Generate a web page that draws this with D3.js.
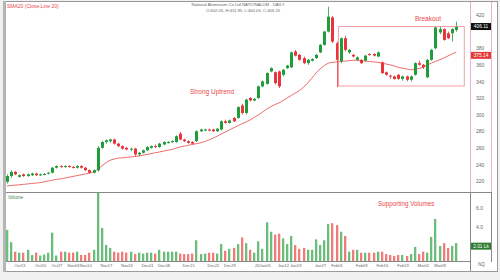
<!DOCTYPE html>
<html>
<head>
<meta charset="utf-8">
<script src="https://cdn.jsdelivr.net/npm/d3@7"></script>
<style>
html, body { margin: 0; padding: 0; background: #fff; }
svg { display: block; font-family: "Liberation Sans", Arial, sans-serif; }
</style>
</head>
<body>
<svg id="chart" width="500" height="280"></svg>
<script>
// daily candles, NATIONALUM
const open  = [219,226,231,225,228,226,227,229,227,228,229,230,236,238,237,238,237,236,238,236,233,230,233,260,267,268,270,265,262,260,258,259,252,254,257,260,262,261,264,266,267,267,277,270,268,267,268,280,281,282,282,280,282,292,290,296,296,311,302,320,317,320,334,337,352,351,352,348,356,357,376,372,368,362,365,368,375,384,400,417,386,364,392,375,372,366,366,365,373,373,370,363,351,347,346,348,343,346,342,348,362,360,345,366,380,399,403,398,398,402];
const high  = [228,233,232,228,229,229,230,230,229,229.5,231,237,239,239,239,239,238,239,239,237,234,234,262,268,270,271,271,266,263,261,260,260,255,258,262,263,264,266,268,268,269,275,279,271,269,268,281,283,283,283,283,284,293,294,294,297,310,313,319,321,320,335,341,351,357,352,353,355,360,376,378,373,370,367,368,373,385,401,430,419,388,393,395,379,373,370,367,372,374,374,376,364,352,348,347,349,347,347,347,363,365,361,367,379,406,406,404,400,404,412];
const low   = [217,224,227,224,225,225,226,226,226,227,228,229,235,236,236,236,235,235,235,232,229,229,231,259,265,266,264,261,258,257,256,250,250,253,256,259,260,260,263,265,266,266,269,267,265,264,267,279,280,280,279,279,281,289,289,291,295,300,300,316,316,319,333,336,351,336,332,346,355,356,370,365,361,360,364,367,374,383,399,386,333,362,376,373,369,365,361,364,371,370,369,349,347,343,342,342,341,340,340,347,359,355,344,365,379,397,389,391,388,400];
const close = [226,231,228,227,226,228,229,227,228,228.5,230,236,238,237,238,237,236,238,236,233,230,233,260,267,269,270,265,262,259,258,259,252,254,257,261,262,261,265,267,267,268,274,270,268,266,265,280,282,282,281,280,283,292,290,293,292,309,302,318,317,319,334,340,350,356,338,334,354,359,375,371,366,362,366,367,372,384,400,418,388,366,392,378,378,370,369,362,371,372,371,375,350,348,346,343,343,346,342,346,362,360,357,366,378,405,403,390,392,403,406.11];
const sma20 = [214,214.5,215,215.5,216,216.5,217,217.5,218,219,220,221,222,222.5,223.5,224.5,225.5,226.5,227.5,228.5,229.5,231,234,238,242,245,246.5,247.5,248,248.5,249,249.5,250,251,252,253,254,255,256,257,258,259.5,261,262,263,264,265,266,267.5,269.5,271.5,274,276.5,279,281.5,284,286.5,289,291,293.5,296.5,299.5,303,306.5,309.5,312,314,317,320,323,326,329,333,338,344,350,355,359,362,363,363.5,364,364.5,365,365.5,365.5,365,364.5,364,363.5,363,362,361,360,358.5,357,356,355,354,354.5,355.5,357,359.5,362,364,366,368,370.5,373,375];
const volume = [3.7,2.4,1.4,1.3,1.3,1.6,1.05,1.3,1.0,1.1,1.3,3.4,1.0,1.4,1.4,1.3,1.3,1.4,1.05,1.05,1.3,1.6,7.6,3.9,2.1,1.8,1.4,1.3,1.4,1.3,1.4,1.15,1.3,1.2,1.3,1.3,1.2,1.6,1.4,1.4,1.4,1.4,1.2,1.15,1.15,1.2,2.6,1.15,1.2,1.3,1.3,1.2,2.2,1.5,1.7,1.8,2.2,2.9,2.3,1.6,1.3,2.5,1.7,4.5,3.5,3.2,3.3,2.8,2.2,3.05,2.1,1.7,1.8,1.6,1.6,2.7,2.1,2.6,4.3,4.4,4.2,3.5,3.05,1.4,1.6,1.6,1.3,1.3,1.3,1.3,1.4,1.4,1.15,1.05,0.95,1.05,1.05,0.95,1.15,1.9,1.15,1.4,1.3,2.95,4.85,2.0,2.3,1.8,2.0,2.3];

const tickText = ["Oct13","Oct20","Oct27","Nov03","Nov10","Nov17","Nov24","Dec01","Dec08","Dec15","Dec22","Dec29","26Jan05","Jan12","Jan19","Jan27","Feb01","Feb09","Feb16","Feb23","Mar02","Mar09"];
const tickAt   = [3,8,12,16,19,24,29,34,38,44,50,54,62,67,70,76,80,86,91,96,101,105];
const priceTicks = [220,240,260,280,300,320,340,360,380,420];
const volTicks = [4,6];

const n = close.length;
const up = "#1f9d3a", down = "#e8343a";
const volUp = "#6bbd7b", volDown = "#f07b7b";

const svg = d3.select("#chart");

// frame
svg.append("rect").attr("x", 0).attr("y", 0).attr("width", 500).attr("height", 280).attr("fill", "#f0f0f0");
svg.append("rect").attr("x", 4.5).attr("y", 1.5).attr("width", 493).attr("height", 270)
   .attr("fill", "#fff").attr("stroke", "#9a9a9a");
svg.append("rect").attr("x", 3).attr("y", 1).attr("width", 3).attr("height", 271).attr("fill", "#b5b5b5");

const x = d3.scaleLinear().domain([0, n - 1]).range([7, 456]);
const y = d3.scaleLinear().domain([220, 420]).range([181, 15]);
const yVol = d3.scaleLinear().domain([0, 6]).range([265, 208]);
const volBase = 261;

// panel lines
const lines = svg.append("g").attr("stroke-width", 1);
lines.append("line").attr("x1", 6).attr("x2", 492).attr("y1", 192.5).attr("y2", 192.5).attr("stroke", "#888");
lines.append("line").attr("x1", 6).attr("x2", 471).attr("y1", volBase + 0.5).attr("y2", volBase + 0.5).attr("stroke", "#888");
lines.append("line").attr("x1", 470.5).attr("x2", 470.5).attr("y1", 2).attr("y2", 192).attr("stroke", "#e2b4cc");
lines.append("line").attr("x1", 491.5).attr("x2", 491.5).attr("y1", 2).attr("y2", 192).attr("stroke", "#e2b4cc");
lines.append("line").attr("x1", 470.5).attr("x2", 470.5).attr("y1", 192).attr("y2", 271).attr("stroke", "#888");
lines.append("line").attr("x1", 491.5).attr("x2", 491.5).attr("y1", 192).attr("y2", 262).attr("stroke", "#888");

// SMA 20
svg.append("path")
   .datum(sma20)
   .attr("fill", "none")
   .attr("stroke", "#ef6b6b")
   .attr("stroke-width", 1)
   .attr("d", d3.line().x((d, i) => x(i)).y(d => y(d)));

// candles
const candle = svg.append("g").selectAll("g")
   .data(close)
   .enter()
   .append("g")
   .attr("fill", (d, i) => d >= open[i] ? up : down)
   .attr("stroke", (d, i) => d >= open[i] ? up : down);

candle.append("line")
   .attr("x1", (d, i) => Math.round(x(i)) + 0.5)
   .attr("x2", (d, i) => Math.round(x(i)) + 0.5)
   .attr("y1", (d, i) => y(high[i]))
   .attr("y2", (d, i) => y(low[i]))
   .attr("stroke-width", 0.8);

candle.append("rect")
   .attr("x", (d, i) => Math.round(x(i)) - 1)
   .attr("width", 3)
   .attr("y", (d, i) => y(Math.max(d, open[i])))
   .attr("height", (d, i) => Math.max(1, Math.abs(y(d) - y(open[i]))))
   .attr("stroke", "none");

// volume
svg.append("g").selectAll("rect")
   .data(volume)
   .enter()
   .append("rect")
   .attr("x", (d, i) => Math.round(x(i)) - 1)
   .attr("width", 2.3)
   .attr("y", d => Math.min(yVol(d), volBase - 1))
   .attr("height", d => volBase - Math.min(yVol(d), volBase - 1))
   .attr("fill", (d, i) => close[i] >= open[i] ? volUp : volDown);

// price axis
const yAxis = svg.append("g")
   .attr("transform", "translate(471,0)")
   .call(d3.axisRight(y).tickValues(priceTicks).tickSize(0).tickPadding(5));
yAxis.select(".domain").remove();
yAxis.selectAll("text").attr("font-size", 5).attr("fill", "#666");

const vAxis = svg.append("g")
   .attr("transform", "translate(471,0)")
   .call(d3.axisRight(yVol).tickValues(volTicks).tickFormat(d3.format(".1f")).tickSize(0).tickPadding(5));
vAxis.select(".domain").remove();
vAxis.selectAll("text").attr("font-size", 5).attr("fill", "#666");

// x axis
const xAxis = svg.append("g")
   .attr("transform", `translate(0,${volBase})`)
   .call(d3.axisBottom(x).tickValues(tickAt).tickFormat((d, i) => tickText[i]).tickSize(0).tickPadding(3));
xAxis.select(".domain").remove();
xAxis.selectAll("text").attr("font-size", 4.1).attr("fill", "#666");

svg.append("text").attr("x", 478).attr("y", 266).attr("font-size", 4.6).attr("fill", "#666").text("NQ");

// value tags
const tag = (yy, bg, label) => {
    svg.append("rect").attr("x", 471).attr("y", yy - 3.5).attr("width", 20).attr("height", 7).attr("fill", bg);
    svg.append("text").attr("x", 481).attr("y", yy + 1.7).attr("text-anchor", "middle")
       .attr("font-size", 4.8).attr("fill", "#fff").text(label);
};
tag(y(close[n - 1]), "#111", "406.11");
tag(y(sma20[n - 1]) + 3, "#e53935", "375.14");
tag(yVol(volume[n - 1]) + 3, "#2e7d32", "2.01 Lk");

// breakout box
svg.append("rect")
   .attr("x", x(80.5)).attr("y", y(406))
   .attr("width", x(111) - x(80.5)).attr("height", y(334.5) - y(406))
   .attr("fill", "none").attr("stroke", "#ee8a8a").attr("stroke-width", 0.8);

// labels
const note = (tx, ty, s, size) => svg.append("text").attr("x", tx).attr("y", ty)
   .attr("font-size", size).attr("fill", "#e8474a").text(s);
note(190, 94, "Strong Uptrend", 6.5);
note(415, 21, "Breakout", 6.5);
note(378, 206, "Supporting Volumes", 6.3);

svg.append("text").attr("x", 7).attr("y", 8).attr("font-size", 5).attr("fill", "#e8474a").text("SMA20 (Close,Line 20)");
svg.append("text").attr("x", 8).attr("y", 199).attr("font-size", 4.6).attr("fill", "#3d8a4e").text("Volume");
svg.append("text").attr("x", 238).attr("y", 6).attr("text-anchor", "middle").attr("font-size", 4.2).attr("fill", "#666")
   .text("National Aluminium Co Ltd NATIONALUM - DAILY");
svg.append("text").attr("x", 243).attr("y", 12).attr("text-anchor", "middle").attr("font-size", 4.2).attr("fill", "#666")
   .text("O:402.05, H:411.95, L:400.05, C:406.15");
</script>
</body>
</html>
